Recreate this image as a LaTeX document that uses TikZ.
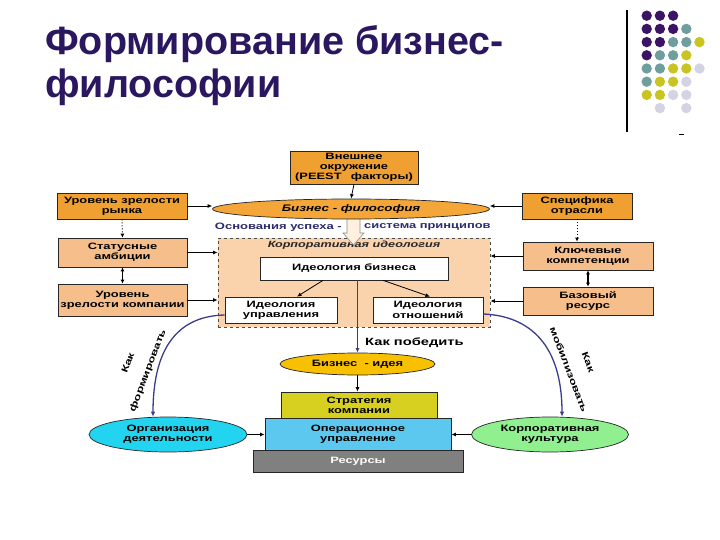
\documentclass[tikz,border=0pt]{standalone}
\usepackage{fontspec}
\setmainfont{Liberation Sans}
\newfontfamily\df[FakeStretch=1.4]{Liberation Sans}
\usetikzlibrary{arrows.meta,shapes.geometric,calc}
\definecolor{ttl}{HTML}{2B1660}
\definecolor{dP}{HTML}{3B1466}
\definecolor{dT}{HTML}{6E9E9E}
\definecolor{dY}{HTML}{C9C422}
\definecolor{dL}{HTML}{D3D3E3}
\definecolor{orA}{HTML}{F0A030}
\definecolor{orE}{HTML}{F5A638}
\definecolor{pch}{HTML}{F6BE8A}
\definecolor{dbx}{HTML}{FAD2AC}
\definecolor{navy}{HTML}{2B2B6B}
\definecolor{arcc}{HTML}{3C3C8C}
\definecolor{gold}{HTML}{F7C000}
\definecolor{olv}{HTML}{D8D020}
\definecolor{lblue}{HTML}{5CC8F0}
\definecolor{cyanE}{HTML}{22D4F0}
\definecolor{grnE}{HTML}{90F090}
\definecolor{resg}{HTML}{808080}
\tikzset{
  bx/.style={draw=black!85, line width=0.7pt, align=center, inner sep=0pt,
    font=\df\bfseries\fontsize{9.2}{10.3}\selectfont},
  ell/.style={bx, ellipse},
  arr/.style={-{Latex[length=4.5pt,width=4pt]}, line width=0.8pt},
  darr/.style={{Latex[length=4pt,width=4pt]}-{Latex[length=4pt,width=4pt]}, line width=1.6pt},
  dotarr/.style={-{Latex[length=4pt,width=4pt]}, line width=1pt, dotted},
  arcarr/.style={-{Latex[length=5pt,width=4.5pt]}, line width=1.3pt, draw=arcc},
  lbl/.style={inner sep=0pt, font=\df\bfseries\fontsize{9}{10}\selectfont},
  arclbl/.style={inner sep=0pt, align=center, font=\df\bfseries\fontsize{9}{21}\selectfont},
}
\begin{document}
\begin{tikzpicture}[x=1pt,y=-1pt]
\useasboundingbox (0,0) rectangle (720,540);
\fill[white] (0,0) rectangle (720,540);
% title
\node[anchor=base west, inner sep=0pt, text=ttl, font=\bfseries\fontsize{39.5}{43}\selectfont] (t1) at (45,55) {Формирование бизнес-};
\node[anchor=base west, inner sep=0pt, text=ttl, font=\bfseries\fontsize{39.5}{43}\selectfont] (t2) at (45,98) {философии};
% decoration
\draw[line width=1.2pt] (627,10) -- (627,132);
\draw[line width=0.8pt] (679,134.5) -- (684,134.5);
\foreach \c/\r/\k in {0/0/dP,1/0/dP,2/0/dP, 0/1/dP,1/1/dP,2/1/dP,3/1/dT, 0/2/dP,1/2/dP,2/2/dT,3/2/dT,4/2/dY, 0/3/dP,1/3/dT,2/3/dT,3/3/dY, 0/4/dT,1/4/dT,2/4/dY,3/4/dY,4/4/dL, 0/5/dT,1/5/dY,2/5/dY,3/5/dL, 0/6/dY,1/6/dY,2/6/dL,3/6/dL, 1/7/dL,3/7/dL}
  \fill[\k] (646.7+13.2*\c, 15.7+13.2*\r) circle (5.2pt);
% dashed box
\node[draw=black!70, dashed, fill=dbx, line width=0.8pt, minimum width=272pt, minimum height=89pt, inner sep=0pt] (dbox) at (354,282.5) {};
\node[inner sep=0pt, font=\df\bfseries\itshape\fontsize{9}{10}\selectfont, text=black!85] (kid) at (354,245) {Корпоративная идеология};
% block arrow
\filldraw[draw=black!45, fill=orange!12, line width=0.6pt] (347,218) -- (360,218) -- (360,233) -- (364,233) -- (353.5,245) -- (343,233) -- (347,233) -- cycle;
% top
\node[bx, fill=orA, minimum width=128pt, minimum height=33pt, font=\df\bfseries\fontsize{9.2}{10}\selectfont] (ext) at (354,167.5) {Внешнее\\окружение\\(PEEST\quad факторы)};
\node[ell, fill=orE, minimum width=277pt, minimum height=20pt, font=\df\bfseries\itshape\fontsize{9.5}{11}\selectfont] (bph) at (351,209) {Бизнес - философия};
\node[bx, fill=orA, minimum width=130pt, minimum height=26pt] (urr) at (122,206) {Уровень зрелости\\рынка};
\node[bx, fill=orA, minimum width=110pt, minimum height=26pt] (spo) at (577,206) {Специфика\\отрасли};
\node[anchor=east, lbl, text=navy, font=\df\bfseries\fontsize{9.3}{10}\selectfont] (osn) at (342,227) {Основания успеха -};
\node[anchor=west, lbl, text=navy, font=\df\bfseries\fontsize{9.2}{10}\selectfont] (sys) at (364,227) {система принципов};
% side boxes
\node[bx, fill=pch, minimum width=129pt, minimum height=29pt] (stat) at (122.5,252.5) {Статусные\\амбиции};
\node[bx, fill=pch, minimum width=129pt, minimum height=32pt] (urk) at (122.5,300) {Уровень\\зрелости компании};
\node[bx, fill=pch, minimum width=130pt, minimum height=28pt] (kc) at (588,256) {Ключевые\\компетенции};
\node[bx, fill=pch, minimum width=130pt, minimum height=28pt] (br) at (588,301) {Базовый\\ресурс};
% inner boxes
\node[bx, fill=white, minimum width=188pt, minimum height=23pt] (idb) at (354,268.5) {Идеология бизнеса};
\node[bx, fill=white, minimum width=112pt, minimum height=26pt] (idu) at (281,310) {Идеология\\управления};
\node[bx, fill=white, minimum width=110pt, minimum height=26pt] (ido) at (428,310) {Идеология\\отношений};
% lower
\node[ell, fill=gold, minimum width=155pt, minimum height=22pt] (bi) at (357.5,364) {Бизнес \ - идея};
\node[bx, fill=resg, text=white, minimum width=210pt, minimum height=22pt] (res) at (358,461) {Ресурсы};
\node[bx, fill=lblue, minimum width=186pt, minimum height=32pt] (opu) at (358,434) {Операционное\\управление};
\node[bx, fill=olv, minimum width=156pt, minimum height=26pt] (str) at (359,405) {Стратегия\\компании};
\node[ell, fill=cyanE, minimum width=158pt, minimum height=35pt] (org) at (168,434.5) {Организация\\деятельности};
\node[ell, fill=grnE, minimum width=157pt, minimum height=35pt] (kk) at (550,434.5) {Корпоративная\\культура};
\node[anchor=west, lbl, font=\df\bfseries\fontsize{10.5}{11}\selectfont] (kp) at (365,343) {Как победить};
% connectors
\draw[arr] (ext.south) -- (bph.north);
\draw[arr] (urr.east) -- (urr.east -| bph.west);
\draw[arr] (spo.west) -- (spo.west -| bph.east);
\draw[dotarr] (urr.south) -- (stat.north);
\draw[dotarr] (spo.south) -- (spo.south |- kc.north);
\draw[darr] (stat.south) -- (stat.south |- urk.north);
\draw[darr] (kc.south) -- (br.north);
\draw[arr] (stat.east) -- (stat.east -| dbox.west);
\draw[arr] (urk.east) -- (urk.east -| dbox.west);
\draw[arr] (kc.west) -- (kc.west -| dbox.east);
\draw[arr] (br.west) -- (br.west -| dbox.east);
\draw[arr] ([xshift=-31pt]idb.south) -- ([xshift=16pt]idu.north);
\draw[arr] ([xshift=29pt]idb.south) -- ([xshift=2pt]ido.north);
\draw[arr, draw=arcc, line width=1.2pt] ([xshift=3.5pt]idb.south) -- (bi.north);
\draw[arr] (bi.south) -- (bi.south |- str.north);
\draw[arr] (org.east) -- (org.east -| opu.west);
\draw[arr] (kk.west) -- (kk.west -| opu.east);
\draw[arcarr] ([yshift=-5pt]idu.west) .. controls (180,316) and (153,345) .. ([xshift=-15pt]org.north);
\draw[arcarr] ([yshift=-4pt]ido.east) .. controls (530,316) and (562,345) .. ([xshift=12pt]kk.north);
\node[arclbl, rotate=69] (lform) at (138.5,367) {Как\\формировать};
\node[arclbl, rotate=-69] (lmob) at (578.5,366) {Как\\мобилизовать};
\end{tikzpicture}
\end{document}
